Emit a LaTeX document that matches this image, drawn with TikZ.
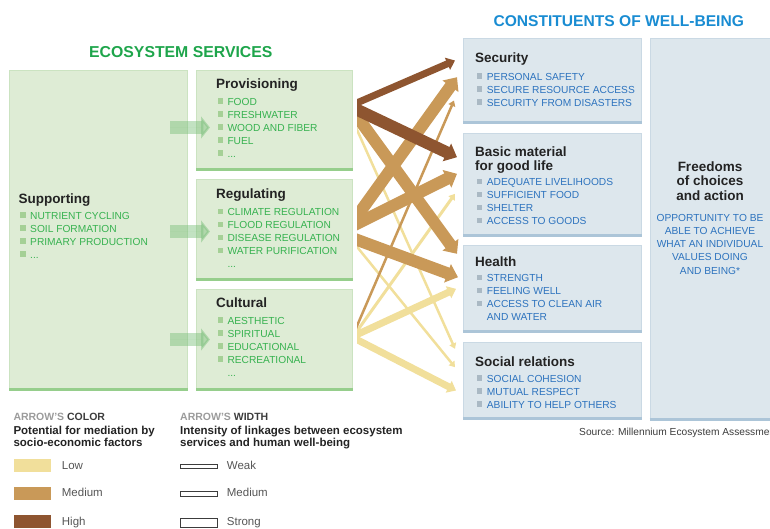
\documentclass[tikz,border=0pt]{standalone}
\usepackage{fontspec}
\setmainfont{Liberation Sans}
\usetikzlibrary{arrows.meta,calc}

\definecolor{gfill}{RGB}{222,236,213}
\definecolor{gedge}{RGB}{203,227,193}
\definecolor{gbot}{RGB}{150,206,140}
\definecolor{bfill}{RGB}{221,231,237}
\definecolor{bedge}{RGB}{202,217,228}
\definecolor{bbot}{RGB}{172,197,216}
\definecolor{gtitle}{RGB}{30,165,75}
\definecolor{gitem}{RGB}{55,178,80}
\definecolor{gbul}{RGB}{165,208,150}
\definecolor{btitle}{RGB}{25,140,210}
\definecolor{bitem}{RGB}{45,115,190}
\definecolor{bbul}{RGB}{170,185,196}
\definecolor{ink}{RGB}{35,35,35}
\definecolor{lowc}{RGB}{241,223,155}
\definecolor{medc}{RGB}{201,153,88}
\definecolor{highc}{RGB}{142,85,48}
\definecolor{garr}{RGB}{120,190,120}
\definecolor{legray}{RGB}{155,155,155}
\definecolor{legdark}{RGB}{60,60,60}
\definecolor{labgray}{RGB}{85,85,85}

\newcommand\gbu{\textcolor{gbul}{\rule[1.5pt]{5.5pt}{5.5pt}}\hspace{4.5pt}}
\newcommand\bbu{\textcolor{bbul}{\rule[1.5pt]{5.5pt}{5.5pt}}\hspace{4.5pt}}
\newcommand\nobu{\hspace{10pt}}

\tikzset{
  gboxs/.style={draw=gedge, line width=1pt, fill=gfill, inner sep=0pt, anchor=north west},
  bboxs/.style={draw=bedge, line width=1pt, fill=bfill, inner sep=0pt, anchor=north west},
  gbase/.style={draw=gbot, line width=3pt},
  bbase/.style={draw=bbot, line width=3pt},
  txt/.style={inner sep=0pt, anchor=base west},
  boxtitle/.style={txt, text=ink, font=\fontsize{13.5}{14}\selectfont\bfseries},
  gitems/.style={txt, text=gitem, font=\fontsize{10.2}{13}\selectfont},
  bitems/.style={txt, text=bitem, font=\fontsize{10.2}{13}\selectfont},
  link/.style={-{Triangle[length=4pt 0.6, width=4pt 1.25]}},
  wweak/.style={link, line width=2.5pt},
  wmed/.style={link, line width=7pt},
  wstrong/.style={link, line width=12pt},
  garrow/.style={draw=garr, fill=garr, opacity=0.45, line width=13pt, -{Triangle[length=9pt, width=22pt]}},
  swatch/.style={anchor=north west, minimum width=37.7, inner sep=0pt},
  wicon/.style={anchor=north west, draw=legdark, line width=0.8pt, fill=white, minimum width=36.7, inner sep=0pt},
  legtxt/.style={txt, text=labgray, font=\fontsize{11.5}{13}\selectfont},
}

\begin{document}
\begin{tikzpicture}[x=1pt, y=-1pt]
\useasboundingbox (0,0) rectangle (770,528);
\clip (0,0) rectangle (770,528);

% titles
\node[txt, text=gtitle, font=\fontsize{15.8}{18}\selectfont\bfseries] (estitle) at (89,57.3) {ECOSYSTEM SERVICES};
\node[txt, text=btitle, font=\fontsize{15.6}{18}\selectfont\bfseries] (cwtitle) at (493.3,26) {CONSTITUENTS OF WELL-BEING};

% green boxes
\node[gboxs, minimum width=178, minimum height=320] (sup) at (9,70) {};
\node[gboxs, minimum width=156, minimum height=100] (prov) at (196,70) {};
\node[gboxs, minimum width=156, minimum height=101.5] (reg) at (196,178.5) {};
\node[gboxs, minimum width=156, minimum height=101] (cult) at (196,289) {};
\foreach \b in {sup,prov,reg,cult}
  \draw[gbase] ([yshift=1.5pt]\b.south west) -- ([yshift=1.5pt]\b.south east);

% blue boxes
\node[bboxs, minimum width=178, minimum height=85.5] (sec) at (463,37.5) {};
\node[bboxs, minimum width=178, minimum height=103] (basic) at (463,133) {};
\node[bboxs, minimum width=178, minimum height=87] (health) at (463,245) {};
\node[bboxs, minimum width=178, minimum height=76.5] (social) at (463,342) {};
\node[bboxs, minimum width=140, minimum height=382] (free) at (649.5,38) {};
\foreach \b in {sec,basic,health,social,free}
  \draw[bbase] ([yshift=1.5pt]\b.south west) -- ([yshift=1.5pt]\b.south east);

% green arrows between services
\draw[garrow] ($(sup.east |- prov.west)+(-18,7)$) -- ($(prov.west)+(14,7)$);
\draw[garrow] ($(sup.east |- reg.west)+(-18,1.75)$) -- ($(reg.west)+(14,1.75)$);
\draw[garrow] ($(sup.east |- cult.west)+(-18,-0.5)$) -- ($(cult.west)+(14,-0.5)$);

% ecosystem services texts
\node[boxtitle] (supt) at (18.3,203.3) {Supporting};
\node[gitems] (supi) at (20,219.3) {\begin{tabular}[t]{@{}l@{}}\gbu NUTRIENT CYCLING\\ \gbu SOIL FORMATION\\ \gbu PRIMARY PRODUCTION\\ \gbu ...\end{tabular}};

\node[boxtitle] (provt) at (216,88.3) {Provisioning};
\node[gitems] (provi) at (217.3,105) {\begin{tabular}[t]{@{}l@{}}\gbu FOOD\\ \gbu FRESHWATER\\ \gbu WOOD AND FIBER\\ \gbu FUEL\\ \gbu ...\end{tabular}};

\node[boxtitle] (regt) at (216,198.3) {Regulating};
\node[gitems] (regi) at (217.3,215.7) {\begin{tabular}[t]{@{}l@{}}\gbu CLIMATE REGULATION\\ \gbu FLOOD REGULATION\\ \gbu DISEASE REGULATION\\ \gbu WATER PURIFICATION\\ \nobu ...\end{tabular}};

\node[boxtitle] (cultt) at (216,307.7) {Cultural};
\node[gitems] (culti) at (217.3,324.3) {\begin{tabular}[t]{@{}l@{}}\gbu AESTHETIC\\ \gbu SPIRITUAL\\ \gbu EDUCATIONAL\\ \gbu RECREATIONAL\\ \nobu ...\end{tabular}};

% well-being texts
\node[boxtitle] (sect) at (475,62.7) {Security};
\node[bitems] (seci) at (476.7,80) {\begin{tabular}[t]{@{}l@{}}\bbu PERSONAL SAFETY\\ \bbu SECURE RESOURCE ACCESS\\ \bbu SECURITY FROM DISASTERS\end{tabular}};

\node[boxtitle] (basict) at (475,156) {\begin{tabular}[t]{@{}l@{}}Basic material\\ for good life\end{tabular}};
\node[bitems] (basici) at (476.7,185.7) {\begin{tabular}[t]{@{}l@{}}\bbu ADEQUATE LIVELIHOODS\\ \bbu SUFFICIENT FOOD\\ \bbu SHELTER\\ \bbu ACCESS TO GOODS\end{tabular}};

\node[boxtitle] (healtht) at (475,266) {Health};
\node[bitems] (healthi) at (476.7,281.7) {\begin{tabular}[t]{@{}l@{}}\bbu STRENGTH\\ \bbu FEELING WELL\\ \bbu ACCESS TO CLEAN AIR\\ \nobu AND WATER\end{tabular}};

\node[boxtitle] (socialt) at (475,366) {Social relations};
\node[bitems] (sociali) at (476.7,382.3) {\begin{tabular}[t]{@{}l@{}}\bbu SOCIAL COHESION\\ \bbu MUTUAL RESPECT\\ \bbu ABILITY TO HELP OTHERS\end{tabular}};

\node[inner sep=0pt, anchor=base, text=ink, font=\fontsize{13.5}{14.2}\selectfont\bfseries] (freet) at (710,171.7) {\begin{tabular}[t]{@{}c@{}}Freedoms\\ of choices\\ and action\end{tabular}};
\node[inner sep=0pt, anchor=base, text=bitem, font=\fontsize{10.2}{13.25}\selectfont] (freei) at (710,221) {\begin{tabular}[t]{@{}c@{}}OPPORTUNITY TO BE\\ ABLE TO ACHIEVE\\ WHAT AN INDIVIDUAL\\ VALUES DOING\\ AND BEING*\end{tabular}};

% linkage arrows
\begin{scope}
\clip (357,0) rectangle (480,528);
% low potential
\draw[lowc, wweak] ($(prov.east)+(0,0.4)$) -- ($(social.west)+(-8,-31.95)$);
\draw[lowc, wweak] ($(reg.east)+(0,12.15)$) -- ($(social.west)+(-8,-13.55)$);
\draw[lowc, wweak, line width=3pt] ($(cult.east)+(0,-3.3)$) -- ($(basic.west)+(-8,8.8)$);
\draw[lowc, wmed] ($(cult.east)+(0,-3.6)$) -- ($(health.west)+(-7,-0.2)$);
\draw[lowc, wmed] ($(cult.east)+(0,-2.4)$) -- ($(social.west)+(-7,9.75)$);
% medium potential
\draw[medc, wstrong] ($(prov.east)+(0,-9.6)$) -- ($(health.west)+(-6,-35.2)$);
\draw[medc, wstrong] ($(reg.east)+(0,-7.95)$) -- ($(sec.west)+(-6,-3.55)$);
\draw[medc, wstrong] ($(reg.east)+(0,-4.05)$) -- ($(basic.west)+(-6,-11.2)$);
\draw[medc, wstrong] ($(reg.east)+(0,8.6)$) -- ($(health.west)+(-5,-11.8)$);
\draw[medc, wweak] ($(cult.east)+(0,-4.8)$) -- ($(sec.west)+(-9,19.75)$);
% high potential
\draw[highc, wmed] ($(prov.east)+(0,-15.9)$) -- ($(sec.west)+(-8,-20.25)$);
\draw[highc, wstrong] ($(prov.east)+(0,-12.7)$) -- ($(basic.west)+(-6,-27.8)$);
\end{scope}

% legend: colour
\node[txt, font=\fontsize{10.5}{12.5}\selectfont\bfseries] (lcolt) at (13.3,420) {\textcolor{legray}{ARROW'S} \textcolor{legdark}{COLOR}};
\node[txt, text=ink, font=\fontsize{11.5}{12.4}\selectfont\bfseries] (lcold) at (13.3,434.3) {\begin{tabular}[t]{@{}l@{}}Potential for mediation by\\ socio-economic factors\end{tabular}};
\node[swatch, fill=lowc, minimum height=13.4] (swlow) at (13.3,458.3) {};
\node[swatch, fill=medc, minimum height=12.6] (swmed) at (13.3,486.7) {};
\node[swatch, fill=highc, minimum height=13.4] (swhigh) at (13.3,514.3) {};
\node[legtxt] (llow) at (61.7,469) {Low};
\node[legtxt] (lmed) at (61.7,496.7) {Medium};
\node[legtxt] (lhigh) at (61.7,525) {High};

% legend: width
\node[txt, font=\fontsize{10.5}{12.5}\selectfont\bfseries] (lwidt) at (180,420) {\textcolor{legray}{ARROW'S} \textcolor{legdark}{WIDTH}};
\node[txt, text=ink, font=\fontsize{11.5}{12.4}\selectfont\bfseries] (lwidd) at (180,434.3) {\begin{tabular}[t]{@{}l@{}}Intensity of linkages between ecosystem\\ services and human well-being\end{tabular}};
\node[wicon, minimum height=3.4] (iweak) at (180,464.3) {};
\node[wicon, minimum height=4.7] (imed) at (180,491) {};
\node[wicon, minimum height=8.4] (istrong) at (180,518.3) {};
\node[legtxt] (lweak) at (226.7,469) {Weak};
\node[legtxt] (lwmed) at (226.7,496.7) {Medium};
\node[legtxt] (lstrong) at (226.7,525) {Strong};

% source
\node[txt, text=legdark, font=\fontsize{10.2}{12}\selectfont] (src) at (579,435) {Source: Millennium Ecosystem Assessment};
\end{tikzpicture}
\end{document}
